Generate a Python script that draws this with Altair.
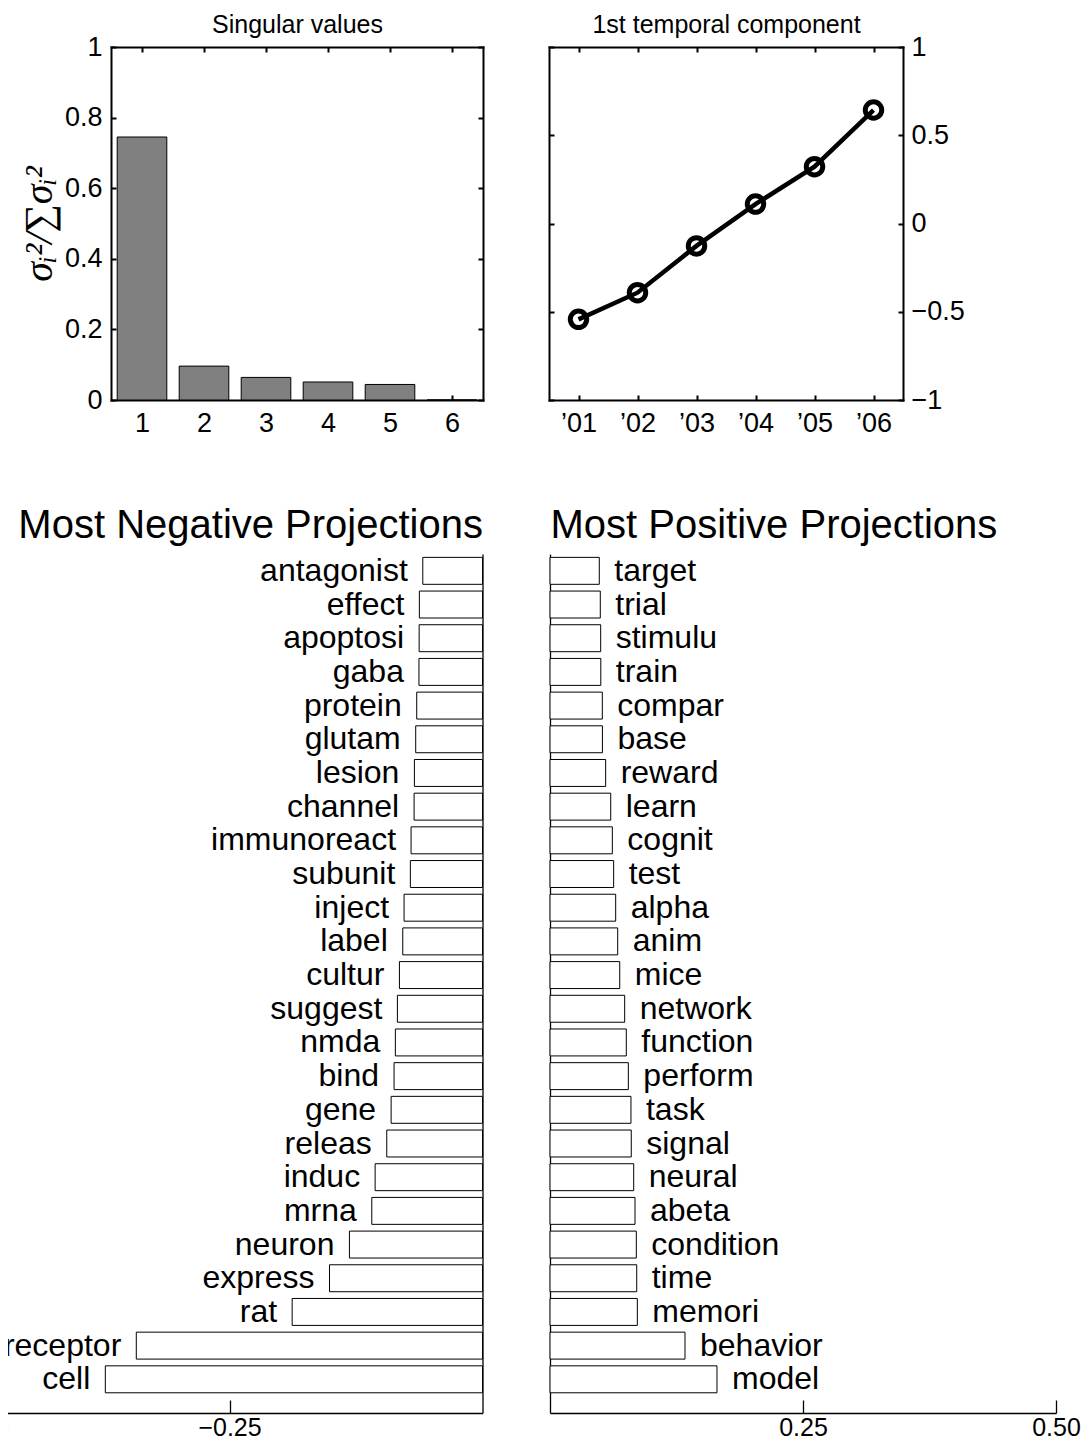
import altair as alt
import pandas as pd

# ---------------- data ----------------
sv_index = [1, 2, 3, 4, 5, 6]
sv_values = [0.745, 0.096, 0.064, 0.051, 0.044, 0.0]
sv_yticks = [0, 0.2, 0.4, 0.6, 0.8, 1]

year_index = [1, 2, 3, 4, 5, 6]
year_labels = ["’01", "’02", "’03", "’04", "’05", "’06"]
temporal_values = [-0.543, -0.392, -0.127, 0.110, 0.322, 0.643]
temporal_yticks = [-1, -0.5, 0, 0.5, 1]

neg_terms = ["antagonist", "effect", "apoptosi", "gaba", "protein", "glutam", "lesion",
             "channel", "immunoreact", "subunit", "inject", "label", "cultur", "suggest",
             "nmda", "bind", "gene", "releas", "induc", "mrna", "neuron", "express", "rat",
             "receptor", "cell"]
neg_values = [-0.0590, -0.0624, -0.0626, -0.0628, -0.0650, -0.0660, -0.0673, -0.0676,
              -0.0706, -0.0713, -0.0775, -0.0788, -0.0821, -0.0841, -0.0861, -0.0874,
              -0.0903, -0.0946, -0.1061, -0.1094, -0.1315, -0.1512, -0.1881, -0.3421, -0.3727]

pos_terms = ["target", "trial", "stimulu", "train", "compar", "base", "reward", "learn",
             "cognit", "test", "alpha", "anim", "mice", "network", "function", "perform",
             "task", "signal", "neural", "abeta", "condition", "time", "memori", "behavior",
             "model"]
pos_values = [0.0487, 0.0497, 0.0501, 0.0502, 0.0517, 0.0518, 0.0550, 0.0600, 0.0616,
              0.0629, 0.0649, 0.0669, 0.0689, 0.0738, 0.0754, 0.0774, 0.0800, 0.0803,
              0.0827, 0.0840, 0.0853, 0.0857, 0.0863, 0.1334, 0.1650]

neg_ticks = [-0.5, -0.25]
pos_ticks = [0.25, 0.5]

# ---------------- layout (pixels inside the single plot area) ----------------
W, H = 1073, 1434
SANS = "Liberation Sans"
SERIF = "Liberation Serif"

A_X = [103, 475]
B_X = [541, 895]
TOP_Y = [392, 39]
NEG_X = [-31.5, 474.5]
POS_X = [542, 1048]
BOT_Y = [1405, 546]


def sc(dom, rng):
    return alt.Scale(domain=dom, range=rng, nice=False, zero=False)


def ax(orient, pos, **kw):
    off = {"bottom": pos - H, "top": -pos, "left": -pos, "right": pos - W}[orient]
    cfg = dict(orient=orient, offset=off, grid=False, labels=False, ticks=False,
               tickSize=0, domain=False, title="")
    cfg.update(kw)
    return alt.Axis(**cfg)


def tick_ax(orient, pos, values, size, width):
    return ax(orient, pos, ticks=True, tickSize=size, tickWidth=width, values=values)


def ghost(df, xf, yf, xs, ys, xa, ya):
    return alt.Chart(df).mark_point(opacity=0, size=1).encode(
        x=alt.X(xf, scale=xs, axis=xa), y=alt.Y(yf, scale=ys, axis=ya))


FRAME = dict(domain=True, domainWidth=2, domainCap="square")
TICK_LABEL = 27
PANEL_TITLE = 25

# ---------------- panel A: singular values ----------------
sv_df = pd.DataFrame({"n": sv_index, "v": sv_values})
sAx = sc([0.5, 6.5], A_X)
sAy = sc([0, 1], TOP_Y)

A1 = alt.Chart(sv_df).transform_calculate(
    lo="datum.n - 0.4", hi="datum.n + 0.4"
).mark_bar(fill="#808080", stroke="black", strokeWidth=1).encode(
    x=alt.X("lo:Q", scale=sAx,
            axis=ax("bottom", TOP_Y[0], labels=True, values=sv_index, format="d",
                    labelFontSize=TICK_LABEL, labelPadding=10, **FRAME)),
    x2="hi:Q",
    y=alt.Y("v:Q", scale=sAy,
            axis=ax("left", A_X[0], labels=True, values=sv_yticks, format="~g",
                    labelFontSize=TICK_LABEL, labelPadding=9,
                    title="σᵢ²/∑σᵢ²", titleFont=SERIF, titleFontSize=40,
                    titleFontStyle="italic", titlePadding=5, **FRAME)),
    y2=alt.Y2(datum=0),
)
A2 = ghost(sv_df, "n:Q", "v:Q", sAx, sAy,
           ax("top", TOP_Y[1], title="Singular values", titleFontSize=PANEL_TITLE,
              titlePadding=10, **FRAME),
           ax("right", A_X[1], **FRAME))
A3 = ghost(sv_df, "n:Q", "v:Q", sAx, sAy,
           tick_ax("top", TOP_Y[0], sv_index, 5, 2),
           tick_ax("right", A_X[0], sv_yticks, 5, 2))
A4 = ghost(sv_df, "n:Q", "v:Q", sAx, sAy,
           tick_ax("bottom", TOP_Y[1], sv_index, 5, 2),
           tick_ax("left", A_X[1], sv_yticks, 5, 2))

# ---------------- panel B: 1st temporal component ----------------
tc_df = pd.DataFrame({"n": year_index, "v": temporal_values})
sBx = sc([0.5, 6.5], B_X)
sBy = sc([-1, 1], TOP_Y)
year_expr = "[" + ",".join("'" + s + "'" for s in year_labels) + "][round(datum.value) - 1]"

B1 = alt.Chart(tc_df).mark_line(color="black", strokeWidth=4.5).encode(
    x=alt.X("n:Q", scale=sBx,
            axis=ax("bottom", TOP_Y[0], labels=True, values=year_index, labelExpr=year_expr,
                    labelFontSize=TICK_LABEL, labelPadding=10, **FRAME)),
    y=alt.Y("v:Q", scale=sBy, axis=ax("left", B_X[0], **FRAME)),
)
B2 = alt.Chart(tc_df).mark_point(shape="circle", filled=False, size=270, strokeWidth=5,
                                 color="black", opacity=1).encode(
    x=alt.X("n:Q", scale=sBx,
            axis=ax("top", TOP_Y[1], title="1st temporal component",
                    titleFontSize=PANEL_TITLE, titlePadding=10, **FRAME)),
    y=alt.Y("v:Q", scale=sBy,
            axis=ax("right", B_X[1], labels=True, values=temporal_yticks, format="~g",
                    labelFontSize=TICK_LABEL, labelPadding=8, **FRAME)),
)
B3 = ghost(tc_df, "n:Q", "v:Q", sBx, sBy,
           tick_ax("top", TOP_Y[0], year_index, 5, 2),
           tick_ax("right", B_X[0], temporal_yticks, 5, 2))
B4 = ghost(tc_df, "n:Q", "v:Q", sBx, sBy,
           tick_ax("bottom", TOP_Y[1], year_index, 5, 2),
           tick_ax("left", B_X[1], temporal_yticks, 5, 2))

# ---------------- bottom panels: projections ----------------
n_rows = len(neg_terms)
neg_df = pd.DataFrame({"term": neg_terms, "v": neg_values,
                       "row": list(range(n_rows, 0, -1))})
pos_df = pd.DataFrame({"term": pos_terms, "v": pos_values,
                       "row": list(range(n_rows, 0, -1))})
sRowY = sc([0, n_rows + 0.5], BOT_Y)
sNegX = sc([-0.5, 0], NEG_X)
sPosX = sc([0, 0.5], POS_X)
AXW = 1.3


def proj_panel(df, sx, zero_x, ticks, title, anchor, align, dx):
    bars = alt.Chart(df).transform_calculate(
        lo="datum.row - 0.4", hi="datum.row + 0.4"
    ).mark_bar(fill="white", stroke="black", strokeWidth=1).encode(
        x=alt.X("v:Q", scale=sx,
                axis=ax("bottom", BOT_Y[0], labels=True, values=ticks, format=".2f",
                        labelFontSize=25, labelPadding=2, domain=True, domainWidth=AXW)),
        x2=alt.X2(datum=0),
        y=alt.Y("lo:Q", scale=sRowY,
                axis=ax("left", zero_x, domain=True, domainWidth=AXW)),
        y2="hi:Q",
    )
    labels = alt.Chart(df).mark_text(align=align, baseline="middle", dx=dx, font=SANS,
                                     fontSize=32, color="black").encode(
        x=alt.X("v:Q", scale=sx, axis=tick_ax("top", BOT_Y[0], ticks, 13, AXW)),
        y=alt.Y("row:Q", scale=sRowY, axis=None),
        text="term:N",
    )
    head = ghost(df, "v:Q", "row:Q", sx, sRowY,
                 ax("top", BOT_Y[1], title=title, titleAnchor=anchor, titleFontSize=40,
                    titlePadding=8.5),
                 None)
    return [bars, labels, head]


neg_layers = proj_panel(neg_df, sNegX, NEG_X[1], neg_ticks, "Most Negative Projections",
                        "end", "right", -15)
pos_layers = proj_panel(pos_df, sPosX, POS_X[0], pos_ticks, "Most Positive Projections",
                        "start", "left", 15)

chart = alt.layer(
    A1, A2, A3, A4, B1, B2, B3, B4, *neg_layers, *pos_layers
).resolve_scale(
    x="independent", y="independent"
).properties(
    width=W, height=H, autosize=alt.AutoSizeParams(type="none"), padding=0
).configure_axis(
    domainColor="black", tickColor="black", labelColor="black", titleColor="black",
    labelFont=SANS, titleFont=SANS, titleFontWeight="normal", labelFlush=False,
    labelOverlap=False
).configure_view(stroke="transparent")

chart.save("out.html", embed_options={"renderer": "svg", "actions": False})
